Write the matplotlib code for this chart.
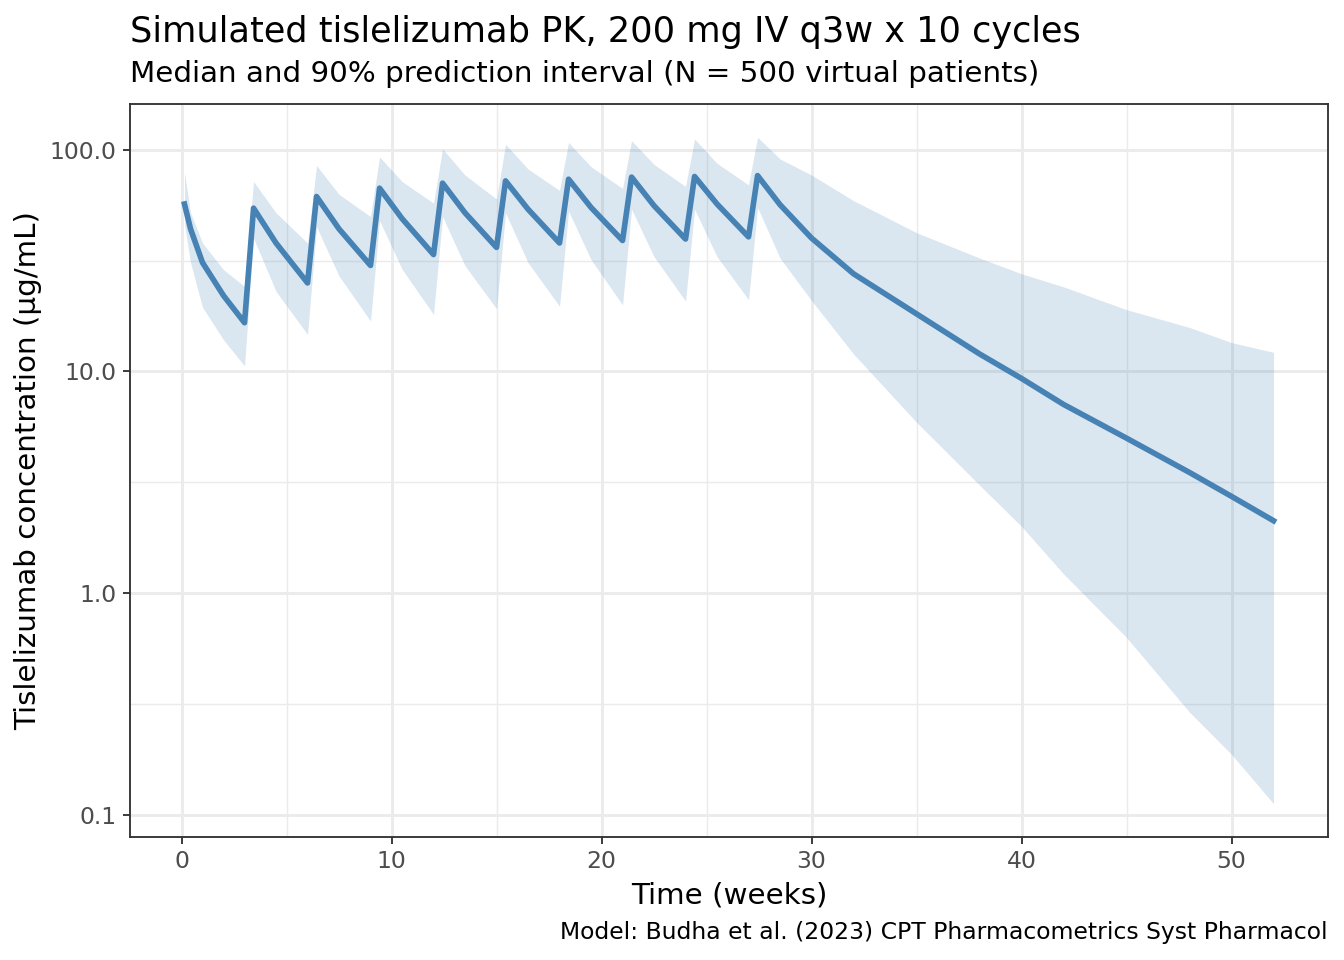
import matplotlib
matplotlib.use("Agg")
import matplotlib.pyplot as plt
import matplotlib.ticker as mticker

# Время (недели) и концентрации (мкг/мл): медиана и 90% интервал
weeks = [0.14, 0.43, 1.0, 2.0, 3.0,
         3.43, 4.5, 6.0,
         6.43, 7.5, 9.0,
         9.43, 10.5, 12.0,
         12.43, 13.5, 15.0,
         15.43, 16.5, 18.0,
         18.43, 19.5, 21.0,
         21.43, 22.5, 24.0,
         24.43, 25.5, 27.0,
         27.43, 28.5, 30, 32, 35, 38, 40, 42, 45, 48, 50, 52]
median = [57, 44, 31, 22, 16.6,
          54.6, 38, 25.1,
          61.6, 44, 30.1,
          67.2, 49, 33.7,
          70.8, 52, 36.3,
          72.5, 54, 38.0,
          73.8, 55, 39.0,
          75.4, 56, 39.6,
          75.9, 57, 40.5,
          76.6, 56.6, 40.0, 27.6, 18.2, 12.0, 9.3, 7.1, 5.0, 3.5, 2.73, 2.12]
lower = [46, 31, 19.5, 13.9, 10.6,
         40, 23, 14.7,
         45, 27, 16.9,
         48, 29, 18.1,
         50, 30, 19.2,
         52, 31, 19.7,
         53, 32, 20.0,
         54, 33, 20.8,
         54, 33, 21.1,
         55, 32.5, 20.9, 12.0, 5.9, 3.07, 2.0, 1.22, 0.63, 0.29, 0.187, 0.112]
upper = [79, 52, 38, 28.8, 24.2,
         72, 52, 38,
         85, 63, 50,
         93, 72, 57.5,
         101, 77, 60,
         106, 82, 65.6,
         108, 84, 67,
         110, 86, 68.4,
         112, 87, 69.5,
         114, 91, 77, 59, 42.3, 32.5, 27.6, 24.1, 19.0, 15.8, 13.5, 12.2]

x_ticks = [0, 10, 20, 30, 40, 50]
x_minor = [5, 15, 25, 35, 45]
y_ticks = [0.1, 1, 10, 100]
y_minor = [0.316, 3.16, 31.6]

fig = plt.figure(figsize=(7, 5), dpi=192)
ax = fig.add_axes([130 / 1344, 1 - 837 / 960, (1328 - 130) / 1344, (837 - 104) / 960])

ax.fill_between(weeks, lower, upper, color="#4682B4", alpha=0.2, linewidth=0)
ax.plot(weeks, median, color="#4682B4", linewidth=2.1, solid_joinstyle="round")

ax.set_yscale("log")
ax.margins(x=0.05, y=0.05)

ax.set_xticks(x_ticks)
ax.set_xticks(x_minor, minor=True)
ax.set_yticks(y_ticks)
ax.set_yticks(y_minor, minor=True)
ax.yaxis.set_major_formatter(mticker.FixedFormatter(["0.1", "1.0", "10.0", "100.0"]))
ax.yaxis.set_minor_formatter(mticker.NullFormatter())

ax.grid(which="major", color="#EBEBEB", linewidth=1.07)
ax.grid(which="minor", color="#EBEBEB", linewidth=0.53)
ax.set_axisbelow(True)

for s in ax.spines.values():
    s.set_color("#333333")
    s.set_linewidth(0.7)

ax.tick_params(which="major", length=2.75, width=0.7, color="#333333",
               labelcolor="#4D4D4D", labelsize=8.8, pad=2.2)
ax.tick_params(which="minor", length=0)

ax.set_xlabel("Time (weeks)", fontsize=11, labelpad=3)
ax.set_ylabel("Tislelizumab concentration (µg/mL)", fontsize=11, labelpad=3)

fig.text(130 / 1344, 1 - 42 / 960, "Simulated tislelizumab PK, 200 mg IV q3w x 10 cycles",
         fontsize=13.2, ha="left", va="baseline")
fig.text(130 / 1344, 1 - 82 / 960, "Median and 90% prediction interval (N = 500 virtual patients)",
         fontsize=11, ha="left", va="baseline")
fig.text(1328 / 1344, 1 - 939 / 960, "Model: Budha et al. (2023) CPT Pharmacometrics Syst Pharmacol",
         fontsize=8.8, ha="right", va="baseline")

fig.savefig("out.png", dpi=192)
